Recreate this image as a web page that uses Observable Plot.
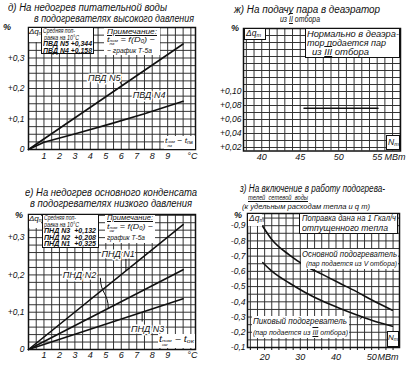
<!DOCTYPE html>
<html><head><meta charset="utf-8">
<script src="https://cdn.jsdelivr.net/npm/d3@7"></script>
<script src="https://cdn.jsdelivr.net/npm/@observablehq/plot@0.6"></script>
<style>
body{margin:0;background:#fff;}
#page{position:relative;width:414px;height:366px;overflow:hidden;font-family:"Liberation Sans",Arial,sans-serif;font-style:italic;color:#111;background:#fff;}
.t{position:absolute;white-space:nowrap;line-height:1;width:max-content;}
.box{position:absolute;background:#fff;box-sizing:border-box;}
.ss{display:inline-flex;flex-direction:column;font-size:50%;line-height:1;vertical-align:0;}
sub{font-size:65%;vertical-align:-0.2em;line-height:0;}
</style></head><body><div id="page"></div>
<script>
// ---------- Panel д : HP heaters ----------
const hpXTicks = [1,2,3,4,5,6,7,8,9,10.6];
const hpXLabels = ["1","2","3","4","5","6","7","8","9","°C"];
const hpYTicks = [0,0.1,0.2,0.3];
const hpYLabels = ["0","+0,1","+0,2","+0,3"];
const hpN5X = [0,10];
const hpN5Y = [0,0.346];
const hpN4X = [0,1,3.15,5.3,7.5,10];
const hpN4Y = [0,0.024,0.053,0.084,0.117,0.158];

// ---------- Panel ж : deaerator ----------
const deXTicks = [40,45,50,55,57.3];
const deXLabels = ["40","45","50","55","МВт"];
const deYTicks = [0.02,0.04,0.06,0.08,0.10];
const deYLabels = ["+0,02","+0,04","+0,06","+0,08","+0,10"];
const deLineX = [45.5,55.1];
const deLineY = [0.076,0.076];

// ---------- Panel е : LP heaters ----------
const lpXTicks = [1,2,3,4,5,6,7,8,9,10.6];
const lpXLabels = ["1","2","3","4","5","6","7","8","9","°C"];
const lpYTicks = [0,0.1,0.2,0.3];
const lpYLabels = ["0","+0,1","+0,2","+0,3"];
const lpN1X = [0,10];
const lpN1Y = [0,0.335];
const lpN2X = [0,10];
const lpN2Y = [0,0.214];
const lpN3X = [0,10];
const lpN3Y = [0,0.136];

// ---------- Panel з : network water heaters ----------
const nwXTicks = [20,30,40,50,54.6];
const nwXLabels = ["20","30","40","50","МВт"];
const nwYTicks = [-0.9,-0.8,-0.7,-0.6,-0.5,-0.4,-0.3,-0.2,-0.1];
const nwYLabels = ["-0,9","-0,8","-0,7","-0,6","-0,5","-0,4","-0,3","-0,2","-0,1"];
const nwMainX = [19.5,22,26.8,31.5,36.2,40.8,45.5,50.2,55.8];
const nwMainY = [-0.895,-0.81,-0.71,-0.635,-0.58,-0.525,-0.47,-0.41,-0.345];
const nwPeakX = [19.5,22.1,26.8,31.5,36.2,40.8,45.5,50.2,55.8];
const nwPeakY = [-0.657,-0.60,-0.525,-0.46,-0.405,-0.36,-0.317,-0.278,-0.24];

const page = document.getElementById("page");
const FONT = "Liberation Sans, Arial, sans-serif";
const INK = "#111";

function labelMap(ticks, labels){ const m = new Map(); ticks.forEach((t,i)=>m.set(t,labels[i])); return m; }

function panel(c){
  const xm = labelMap(c.xTicks, c.xLabels), ym = labelMap(c.yTicks, c.yLabels);
  const marks = [
    Plot.ruleX(c.xGrid, {stroke: "#2a2a2a", strokeWidth: 0.95}),
    Plot.ruleY(c.yGrid, {stroke: "#2a2a2a", strokeWidth: 0.95}),
    Plot.frame({stroke: INK, strokeWidth: 1.5}),
    Plot.axisX({ticks: c.xTicks, tickFormat: d => xm.get(d), tickSize: 0, tickPadding: c.xPad ?? 3, fontSize: 9, fontStyle: "italic", fill: INK}),
    Plot.axisY({ticks: c.yTicks, tickFormat: d => ym.get(d), tickSize: 0, tickPadding: c.yPad ?? 4, fontSize: 8.5, fontStyle: "italic", fill: INK}),
    ...(c.comb ? [Plot.axisX({ticks: c.comb, tickFormat: () => "", tickSize: 3, stroke: INK})] : []),
    ...c.marks
  ];
  const svg = Plot.plot({
    width: c.width, height: c.height,
    marginLeft: c.ml, marginRight: c.mr, marginTop: c.mt, marginBottom: c.mb,
    x: {domain: c.xDomain, axis: null},
    y: {domain: c.yDomain, axis: null},
    style: {fontFamily: FONT, fontStyle: "italic", background: "transparent", overflow: "visible"},
    marks
  });
  svg.style.position = "absolute";
  svg.style.left = c.left + "px";
  svg.style.top = c.top + "px";
  page.append(svg);
  return svg;
}

const lineOpts = {stroke: INK, strokeWidth: 1.6};
const halo = {fontSize: 9, fontStyle: "italic", fill: INK, stroke: "white", strokeWidth: 3};

// Panel д
panel({
  left: 0, top: 22, width: 207, height: 150, ml: 28, mr: 12, mt: 5, mb: 23,
  xDomain: [0, 10.8], yDomain: [0, 0.4],
  xGrid: d3.range(0, 10.81, 0.5), yGrid: d3.range(0, 0.4001, 0.025),
  xTicks: hpXTicks, xLabels: hpXLabels, yTicks: hpYTicks, yLabels: hpYLabels,
  marks: [
    Plot.line(hpN5X, {x: hpN5X, y: hpN5Y, ...lineOpts}),
    Plot.line(hpN4X, {x: hpN4X, y: hpN4Y, ...lineOpts}),
    Plot.link([0], {x1: 5.9, y1: 0.222, x2: 6.1, y2: 0.209, stroke: INK, strokeWidth: 1}),
    Plot.text(["ПВД N5"], {x: 4.9, y: 0.233, text: d => d, ...halo}),
    Plot.text(["ПВД N4"], {x: 7.8, y: 0.177, text: d => d, ...halo})
  ]
});

// Panel ж
panel({
  left: 207, top: 22, width: 207, height: 150, ml: 36, mr: 14, mt: 6, mb: 21.5,
  xDomain: [37.63, 58.03], yDomain: [0.015, 0.19],
  xGrid: d3.range(38, 58.01, 1), yGrid: d3.range(0.02, 0.1901, 0.01),
  xTicks: deXTicks, xLabels: deXLabels, yTicks: deYTicks, yLabels: deYLabels, yPad: 2,
  marks: [
    Plot.line(deLineX, {x: deLineX, y: deLineY, ...lineOpts})
  ]
});

// Panel е
panel({
  left: 0, top: 210, width: 207, height: 156, ml: 28, mr: 12, mt: 4, mb: 17,
  xDomain: [0, 10.8], yDomain: [0, 0.362],
  xGrid: d3.range(0, 10.81, 0.5), yGrid: d3.range(0, 0.3621, 0.02),
  xTicks: lpXTicks, xLabels: lpXLabels, yTicks: lpYTicks, yLabels: lpYLabels, xPad: 2,
  marks: [
    Plot.line(lpN1X, {x: lpN1X, y: lpN1Y, ...lineOpts}),
    Plot.line(lpN2X, {x: lpN2X, y: lpN2Y, ...lineOpts}),
    Plot.line(lpN3X, {x: lpN3X, y: lpN3Y, ...lineOpts}),
    Plot.link([0], {x1: 6.3, y1: 0.243, x2: 6.3, y2: 0.211, stroke: INK, strokeWidth: 1}),
    Plot.link([0], {x1: 4.65, y1: 0.192, x2: 5.16, y2: 0.11, stroke: INK, strokeWidth: 1, curve: "bump-y"}),
    Plot.link([0], {x1: 7.35, y1: 0.075, x2: 7.35, y2: 0.1, stroke: INK, strokeWidth: 1}),
    Plot.text(["ПНД N1"], {x: 5.8, y: 0.255, text: d => d, ...halo}),
    Plot.text(["ПНД N2"], {x: 3.3, y: 0.2, text: d => d, ...halo}),
    Plot.text(["ПНД N3"], {x: 7.7, y: 0.056, text: d => d, ...halo})
  ]
});

// Panel з
panel({
  left: 207, top: 208, width: 207, height: 158, ml: 40, mr: 15, mt: 5, mb: 19,
  xDomain: [15.2, 57.8], yDomain: [-0.1, -0.98],
  xGrid: d3.range(16, 57.8, 2), yGrid: d3.range(-0.1, -0.981, -0.05),
  xTicks: nwXTicks, xLabels: nwXLabels, yTicks: nwYTicks, yLabels: nwYLabels, xPad: 6, yPad: 2,
  comb: d3.range(16, 57.8, 2),
  marks: [
    Plot.line(nwMainX, {x: nwMainX, y: nwMainY, curve: "monotone-x", ...lineOpts}),
    Plot.line(nwPeakX, {x: nwPeakX, y: nwPeakY, curve: "monotone-x", ...lineOpts}),
    Plot.link([0], {x1: 46.8, y1: -0.285, x2: 47.4, y2: -0.305, stroke: INK, strokeWidth: 1})
  ]
});

// ---------- HTML annotations ----------
function note(html, x, y, size, w, extra){
  const d = document.createElement("div");
  d.className = "t";
  d.style.left = x + "px"; d.style.top = y + "px"; d.style.fontSize = size + "px";
  if (extra) Object.assign(d.style, extra);
  d.innerHTML = html;
  page.append(d);
  if (w){ const r = d.getBoundingClientRect().width; d.style.transformOrigin = "0 0"; d.style.transform = `scaleX(${w / r})`; }
  return d;
}
function box(x, y, w, h, border){
  const d = document.createElement("div");
  d.className = "box";
  Object.assign(d.style, {left: x+"px", top: y+"px", width: w+"px", height: h+"px", border: border ? "1px solid #111" : "none"});
  page.append(d);
}

// titles
note("д) На недогрев питательной воды", 8, 2.5, 10, 159);
note("в подогревателях высокого давления", 34, 13.5, 10, 160);
note("ж) На подачу пара в деаэратор", 234, 5, 10, 146);
note("из <span style='text-decoration:underline overline'>II</span> отбора", 280, 14.5, 8.5, 40);
note("е) На недогрев основного конденсата", 25, 186.5, 10.5, 172);
note("в подогревателях низкого давления", 30, 197.5, 10.5, 162);
note("з) На включение в работу подогрева-", 240, 184, 10, 145);
note("<u>телей&nbsp; сетевой&nbsp; воды</u>", 248, 194, 8, 60);
note("(к удельным расходам тепла и q т)", 242, 202.5, 7, 128);

// panel д annotations
note("%", 3, 23, 9, 0, {fontWeight: "bold"});
box(28.7, 27.7, 12, 14, false);
note("Δq<sub>т</sub>", 29, 28, 8);
box(41, 27, 53, 27, true);
note("Средняя поп-", 43, 28, 6.5, 32);
note("равка на 10°C", 43.5, 34.5, 6.5, 35);
note("ПВД N5 +0,344", 43, 41, 6.5, 49, {fontWeight: "bold"});
note("ПВД N4 +0,158", 43, 47.5, 6.5, 49, {fontWeight: "bold"});
box(104, 27.7, 56, 27, false);
note("<u>Примечание:</u>", 107, 27.5, 7.5, 50);
note("t<span class='ss'><span>ном</span><span>пв</span></span> = f(D<sub>0</sub>) −", 107, 35.5, 7.5, 48);
note("− график Т-5а", 107, 47, 7.5, 45);
box(164, 136, 30.5, 12.5, false);
note("t<span class='ss'><span>ном</span><span>пв</span></span> − t<sub>пв</sub>", 165, 137, 8, 28);

// panel ж annotations
note("%", 231, 24, 9, 0, {fontWeight: "bold"});
box(243.7, 27.7, 22, 12, true);
note("Δq<sub>т</sub>", 246, 28.5, 8.5);
box(305, 27.7, 95.3, 30, true);
note("Нормально в деаэра-", 307, 29.5, 9, 92);
note("тор подается пар", 307, 39, 9, 79);
note("из <span style='text-decoration:underline overline'>III</span> отбора", 312, 48.3, 9, 57);
box(386, 135, 14, 15, true);
note("N<sub>т</sub>", 388, 137.5, 8.5);

// panel е annotations
note("%", 15, 211, 9, 0, {fontWeight: "bold"});
box(28.7, 214.7, 12.5, 13, false);
note("Δq<sub>т</sub>", 29, 215, 8);
box(42, 214, 57, 34, true);
note("Средняя поп-", 44, 215, 6.5, 32);
note("равка на 10°C", 44, 221.5, 6.5, 35);
note("ПНД N3 &nbsp;+0,132", 44, 228, 6.5, 52, {fontWeight: "bold"});
note("ПНД N2 &nbsp;+0,208", 44, 234.5, 6.5, 52, {fontWeight: "bold"});
note("ПНД N1 &nbsp;+0,325", 44, 241, 6.5, 52, {fontWeight: "bold"});
box(105, 214.7, 50, 28, false);
note("<u>Примечание:</u>", 107, 214, 7.5, 46);
note("t<span class='ss'><span>ном</span><span>ок</span></span> = f(D<sub>0</sub>) −", 107, 222.5, 7.5, 46);
note("график Т-5а", 107, 234, 7.5, 38);
box(158, 334, 36.5, 14, false);
note("t<span class='ss'><span>ном</span><span>ок</span></span> − t<sub>ок</sub>", 159, 335, 8.5, 35);

// panel з annotations
note("%", 234, 211, 9, 0, {fontWeight: "bold"});
box(247.7, 213.7, 14, 12, false);
note("Δq<sub>т</sub>", 249, 214, 8.5);
box(299, 212.7, 99.3, 21.5, true);
note("Поправка дана на 1 Гкал/ч", 302, 214, 9, 94);
note("отпущенного тепла", 302, 224, 9, 86);
box(301, 249, 97, 20, false);
note("Основной подогреватель", 302, 250, 9, 95);
note("(пар подается из V отбора)", 306, 260, 8, 91);
box(252, 316, 97, 22, false);
note("Пиковый подогреватель", 253, 317, 9, 94);
note("(пар подается из <span style='text-decoration:underline overline'>III</span> отбора)", 253, 329, 8, 95);
box(387, 331, 11.5, 15.5, true);
note("N<sub>т</sub>", 388, 334, 8);
</script>
</body></html>
